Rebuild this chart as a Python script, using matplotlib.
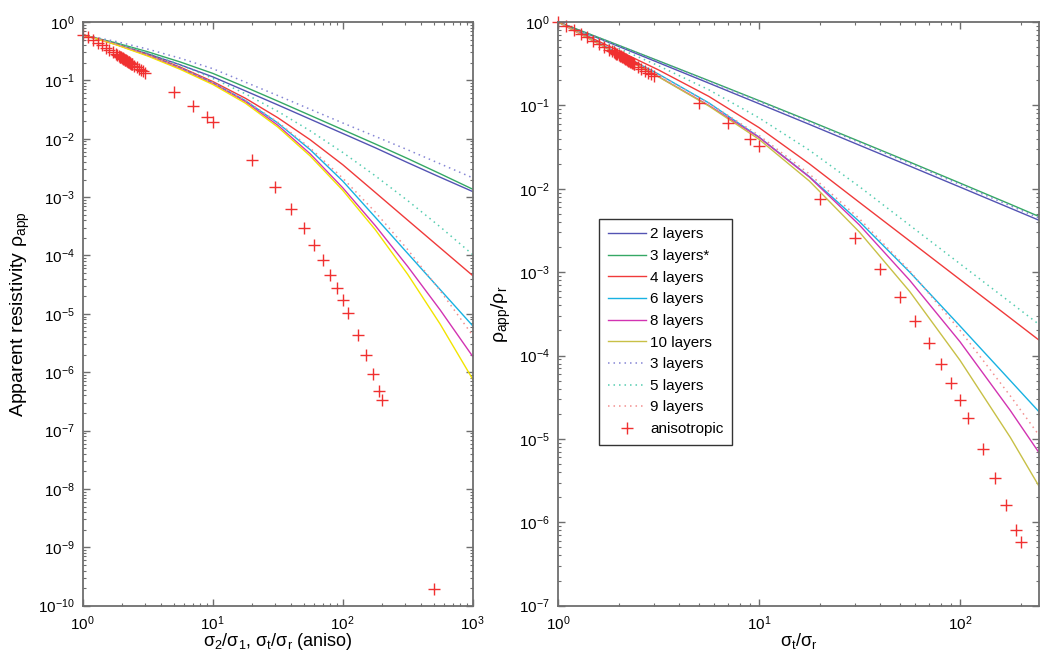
import numpy as np
import matplotlib
matplotlib.use('Agg')
from matplotlib import pyplot as plt
from matplotlib.ticker import FixedLocator, NullFormatter

plt.rcParams['font.family'] = ['Liberation Sans', 'DejaVu Sans']
plt.rcParams['mathtext.fontset'] = 'custom'
plt.rcParams['mathtext.rm'] = 'Liberation Sans'
plt.rcParams['mathtext.it'] = 'Liberation Sans:italic'

# ---- left panel: sigma2/sigma1 sweep, values stored as log10(rho_app) ----
x_left = [1, 1.78, 3.16, 5.62, 10, 17.8, 31.6, 56.2, 100, 178, 316, 562, 1000]
lg_left_2 = [-0.22, -0.374, -0.545, -0.734, -0.94, -1.18, -1.42, -1.665, -1.91, -2.155, -2.41, -2.66, -2.905]
lg_left_3s = [-0.22, -0.355, -0.51, -0.685, -0.88, -1.115, -1.355, -1.60, -1.845, -2.09, -2.34, -2.60, -2.865]
lg_left_4 = [-0.22, -0.373, -0.558, -0.773, -1.02, -1.306, -1.639, -2.018, -2.445, -2.92, -3.395, -3.87, -4.345]
lg_left_6 = [-0.22, -0.378, -0.568, -0.788, -1.04, -1.346, -1.729, -2.188, -2.725, -3.345, -3.965, -4.585, -5.205]
lg_left_8 = [-0.22, -0.381, -0.573, -0.796, -1.05, -1.364, -1.768, -2.259, -2.84, -3.489, -4.188, -4.934, -5.73]
lg_left_10 = [-0.22, -0.386, -0.583, -0.811, -1.07, -1.39, -1.798, -2.296, -2.883, -3.558, -4.323, -5.177, -6.12]
lg_left_3d = [-0.22, -0.331, -0.465, -0.621, -0.80, -1.03, -1.26, -1.495, -1.73, -1.96, -2.19, -2.43, -2.67]
lg_left_5d = [-0.22, -0.360, -0.531, -0.733, -0.965, -1.23, -1.53, -1.865, -2.235, -2.635, -3.06, -3.51, -3.985]
lg_left_9d = [-0.22, -0.378, -0.568, -0.788, -1.04, -1.343, -1.716, -2.16, -2.675, -3.256, -3.899, -4.603, -5.37]

# ---- right panel: sigma_t/sigma_r sweep, log10(rho_app/rho_r) ----
x_right = [1, 1.78, 3.16, 5.62, 10, 17.8, 31.6, 56.2, 100, 178, 248]
lg_right_2 = [0, -0.243, -0.4875, -0.733, -0.98, -1.228, -1.478, -1.728, -1.98, -2.233, -2.379]
lg_right_3s = [0, -0.2314, -0.4658, -0.703, -0.943, -1.186, -1.432, -1.680, -1.932, -2.186, -2.334]
lg_right_4 = [0, -0.2875, -0.575, -0.892, -1.267, -1.701, -2.164, -2.626, -3.089, -3.551, -3.818]
lg_right_6 = [0, -0.3125, -0.625, -0.970, -1.380, -1.855, -2.395, -3.0, -3.646, -4.301, -4.678]
lg_right_8 = [0, -0.325, -0.655, -1.0, -1.385, -1.86, -2.435, -3.098, -3.835, -4.66, -5.17]
lg_right_10 = [0, -0.325, -0.6575, -1.0075, -1.4075, -1.9075, -2.52, -3.2325, -4.0575, -4.9825, -5.573]
lg_right_3d = [0, -0.234, -0.4705, -0.71, -0.952, -1.197, -1.445, -1.695, -1.948, -2.204, -2.352]
lg_right_5d = [0, -0.2625, -0.525, -0.8125, -1.15, -1.5375, -1.975, -2.4375, -2.9, -3.3625, -3.629]
lg_right_9d = [0, -0.3125, -0.6325, -0.9725, -1.36, -1.8225, -2.36, -2.985, -3.6975, -4.485, -4.96]

# ---- anisotropic model points ----
aniso_x = [1.0, 1.1, 1.2, 1.3, 1.4, 1.5, 1.6, 1.7, 1.8, 1.85, 1.9, 1.925, 1.95, 1.975,
           2.0, 2.025, 2.05, 2.075, 2.1, 2.125, 2.15, 2.175, 2.2, 2.225, 2.25, 2.275,
           2.3, 2.325, 2.35, 2.375, 2.4, 2.5, 2.6, 2.7, 2.8, 2.9, 3.0,
           5, 7, 9, 10, 20, 30, 40, 50, 60, 70, 80, 90, 100, 110, 130, 150, 170, 190, 200, 500]
aniso_left = [0.606, 0.545, 0.487, 0.438, 0.397, 0.362, 0.331, 0.305, 0.282, 0.271, 0.261,
              0.256, 0.252, 0.247, 0.243, 0.239, 0.235, 0.231, 0.227, 0.2235, 0.220, 0.216,
              0.2126, 0.209, 0.206, 0.203, 0.1995, 0.196, 0.193, 0.190, 0.1877, 0.177,
              0.1672, 0.1582, 0.150, 0.1425, 0.1355,
              0.0625, 0.0365, 0.0233, 0.0191, 4.3e-3, 1.51e-3, 6.3e-4, 2.9e-4, 1.5e-4,
              8.4e-5, 4.7e-5, 2.8e-5, 1.7e-5, 1.05e-5, 4.4e-6, 2.0e-6, 9.5e-7, 4.8e-7,
              3.4e-7, 1.9e-10]
aniso_right = [1.0, 0.90, 0.80, 0.72, 0.655, 0.597, 0.546, 0.503, 0.465, 0.447, 0.431,
               0.422, 0.416, 0.408, 0.401, 0.394, 0.388, 0.381, 0.375, 0.369, 0.363, 0.356,
               0.351, 0.345, 0.340, 0.335, 0.329, 0.323, 0.318, 0.313, 0.310, 0.292,
               0.276, 0.261, 0.2475, 0.235, 0.2236,
               0.108, 0.062, 0.040, 0.033, 7.5e-3, 2.57e-3, 1.08e-3, 5.1e-4, 2.6e-4,
               1.4e-4, 8.0e-5, 4.7e-5, 2.9e-5, 1.8e-5, 7.6e-6, 3.4e-6, 1.6e-6, 8.1e-7,
               5.8e-7]

labels = ['2 layers', '3 layers*', '4 layers', '6 layers', '8 layers', '10 layers',
          '3 layers', '5 layers', '9 layers', 'anisotropic']

c_2 = '#5353b3'
c_3 = '#35a865'
c_4 = '#f03a3a'
c_6 = '#18b2e2'
c_8 = '#d233b2'
c_10_left = '#f2e400'
c_10_right = '#c8c046'
c_3d = '#8585d5'
c_5d = '#55cdb0'
c_9d = '#f39090'
c_aniso = '#f03030'
axis_grey = '#6e6e6e'

dot = (0, (1, 2.6))


def decade_ticks(lo, hi):
    # major ticks at each decade, minor at 2..9 inside [10**lo, 10**hi]
    major = [10.0 ** k for k in range(lo, hi + 1)]
    minor = [m * 10.0 ** k for k in range(lo, hi) for m in range(2, 10)]
    return major, minor


def style_axes(ax, xdec, ydec, xmax, ymin):
    ax.set_xscale('log')
    ax.set_yscale('log')
    for s in ax.spines.values():
        s.set_color(axis_grey)
        s.set_linewidth(1.3)
    ax.tick_params(which='both', direction='in', top=True, right=True,
                   color=axis_grey, labelsize=11, pad=6)
    ax.tick_params(which='major', length=5, width=1)
    ax.tick_params(which='minor', length=2.5, width=0.8)
    xmaj, xmin_ = decade_ticks(0, xdec)
    ymaj, ymin_ = decade_ticks(ydec, 0)
    ax.xaxis.set_major_locator(FixedLocator([t for t in xmaj if t <= xmax]))
    ax.xaxis.set_minor_locator(FixedLocator([t for t in xmin_ if t <= xmax]))
    ax.yaxis.set_major_locator(FixedLocator([t for t in ymaj if t >= ymin]))
    ax.yaxis.set_minor_locator(FixedLocator([t for t in ymin_ if t >= ymin]))
    ax.xaxis.set_minor_formatter(NullFormatter())
    ax.yaxis.set_minor_formatter(NullFormatter())


def draw_panel(ax, x, curves, ax_x, ax_y, c10):
    lg2, lg3s, lg4, lg6, lg8, lg10, lg3d, lg5d, lg9d = curves
    p = lambda v: np.power(10.0, v)
    ax.plot(x, p(lg2), color=c_2, lw=1.0)
    ax.plot(x, p(lg3s), color=c_3, lw=1.0)
    ax.plot(x, p(lg4), color=c_4, lw=1.0)
    ax.plot(x, p(lg6), color=c_6, lw=1.0)
    ax.plot(x, p(lg8), color=c_8, lw=1.0)
    ax.plot(x, p(lg10), color=c10, lw=1.0)
    ax.plot(x, p(lg3d), color=c_3d, lw=1.1, linestyle=dot)
    ax.plot(x, p(lg5d), color=c_5d, lw=1.1, linestyle=dot)
    ax.plot(x, p(lg9d), color=c_9d, lw=1.1, linestyle=dot)
    ax.plot(ax_x, ax_y, '+', color=c_aniso, ms=8, mew=1.0, clip_on=False)


fig = plt.figure(figsize=(10.5, 6.6), dpi=100)
ax1 = fig.add_axes([0.0788, 0.0823, 0.3714, 0.8844])
ax2 = fig.add_axes([0.5315, 0.0823, 0.4583, 0.8844])

draw_panel(ax1, x_left,
           [lg_left_2, lg_left_3s, lg_left_4, lg_left_6, lg_left_8, lg_left_10,
            lg_left_3d, lg_left_5d, lg_left_9d],
           aniso_x, aniso_left, c_10_left)
draw_panel(ax2, x_right,
           [lg_right_2, lg_right_3s, lg_right_4, lg_right_6, lg_right_8, lg_right_10,
            lg_right_3d, lg_right_5d, lg_right_9d],
           aniso_x[:len(aniso_right)], aniso_right, c_10_right)

style_axes(ax1, 3, -10, 1000, 1e-10)
style_axes(ax2, 3, -7, 248, 1e-7)
ax1.set_xlim(1, 1000)
ax1.set_ylim(1e-10, 1)
ax2.set_xlim(1, 248)
ax2.set_ylim(1e-7, 1)

ax1.set_xlabel(r'$\mathrm{σ_2/σ_1}$, $\mathrm{σ_t/σ_r}$ (aniso)', fontsize=13, labelpad=-1)
ax1.set_ylabel(r'Apparent resistivity $\mathrm{ρ_{app}}$', fontsize=14, labelpad=4)
ax2.set_xlabel(r'$\mathrm{σ_t/σ_r}$', fontsize=13, labelpad=-1)
ax2.set_ylabel(r'$\mathrm{ρ_{app}/ρ_r}$', fontsize=14, labelpad=4)

leg = ax2.legend(labels, loc='upper left', bbox_to_anchor=(0.0856, 0.6625),
                 borderaxespad=0, fontsize=11, handlelength=2.5, handletextpad=0.3,
                 labelspacing=0.5, borderpad=0.55, fancybox=False, framealpha=1)
leg.get_frame().set_edgecolor('#333333')
leg.get_frame().set_linewidth(1.0)

fig.savefig('out.png', dpi=100)
